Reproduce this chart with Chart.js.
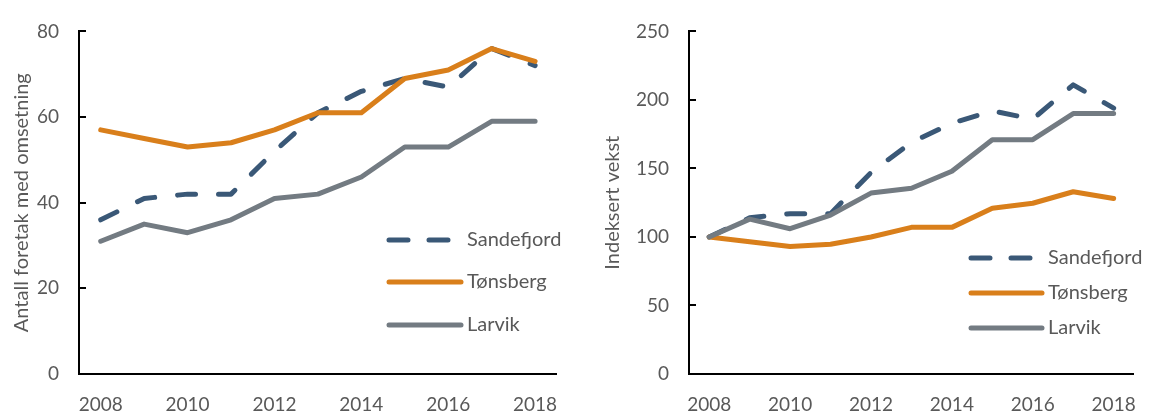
<!DOCTYPE html>
<html><head><meta charset="utf-8">
<script src="https://cdn.jsdelivr.net/npm/chart.js@4.4.0/dist/chart.umd.min.js"></script>
<style>
html,body{margin:0;padding:0;background:#fff;}
#wrap{display:flex;width:1155px;height:414px;}
.c{position:relative;height:414px;}
</style></head><body>
<div id="wrap">
<div class="c" style="width:577px"><canvas id="c1"></canvas></div>
<div class="c" style="width:578px"><canvas id="c2"></canvas></div>
</div>
<script>
const years = ['2008','2009','2010','2011','2012','2013','2014','2015','2016','2017','2018'];
const seriesNames = ['Sandefjord','Tønsberg','Larvik'];
// Left: number of firms with turnover
const sandefjordCount = [36, 41, 42, 42, 52, 61, 66, 69, 67, 76, 72];
const tonsbergCount   = [57, 55, 53, 54, 57, 61, 61, 69, 71, 76, 73];
const larvikCount     = [31, 35, 33, 36, 41, 42, 46, 53, 53, 59, 59];
// Right: indexed growth (2008 = 100)
const sandefjordIndex = [100, 114, 117, 117, 147, 169, 183, 192, 186, 211, 194];
const tonsbergIndex   = [100, 96.5, 93, 94.7, 100, 107, 107, 121, 124.6, 133, 128];
const larvikIndex     = [100, 113, 106, 116, 132, 135.5, 148, 171, 171, 190, 190];
const leftTicks = [0, 20, 40, 60, 80];
const rightTicks = [0, 50, 100, 150, 200, 250];

const FONT = 'Lato, "Open Sans", sans-serif';
const TXT = '#595959';
const COLORS = ['#3A5877', '#D97F1B', '#737B82'];

function datasets(vals){
  return vals.map((v,i)=>({
    label: seriesNames[i], data: v,
    borderColor: COLORS[i], backgroundColor: COLORS[i],
    borderWidth: 5, pointRadius: 0, tension: 0,
    borderCapStyle: 'round', borderJoinStyle: 'round',
    borderDash: i===0 ? [18, 23] : [],
    fill: false
  })).reverse();
}

const insideTicks = {
  id:'insideTicks',
  afterDraw(chart){
    const y = chart.scales.y, a = chart.chartArea, ctx = chart.ctx;
    ctx.save(); ctx.strokeStyle='#000'; ctx.lineWidth=2;
    y.ticks.forEach(t=>{
      const py = Math.round(y.getPixelForValue(t.value));
      ctx.beginPath(); ctx.moveTo(a.left, py); ctx.lineTo(a.left+7, py); ctx.stroke();
    });
    ctx.restore();
  }
};

function legendPlugin(opt){
  return {
    id:'customLegend',
    afterDraw(chart){
      const ctx = chart.ctx;
      ctx.save();
      ctx.font = '20px ' + FONT;
      ctx.textBaseline = 'middle';
      seriesNames.forEach((name,i)=>{
        const ds = chart.data.datasets.find(d=>d.label===name);
        const y = opt.y[i];
        ctx.strokeStyle = ds.borderColor; ctx.lineWidth = 5; ctx.lineCap='round';
        ctx.setLineDash(ds.borderDash && ds.borderDash.length ? [19, 21] : []);
        ctx.beginPath(); ctx.moveTo(opt.x, y); ctx.lineTo(opt.x+opt.len, y); ctx.stroke();
        ctx.setLineDash([]);
        ctx.fillStyle = TXT;
        ctx.fillText(name, opt.x+opt.len+6, y);
      });
      ctx.restore();
    }
  };
}

function makeChart(id, vals, ticksArr, max, step, title, yWidth, pad, titlePad, legend){
  new Chart(document.getElementById(id), {
    type:'line',
    data:{ labels: years, datasets: datasets(vals) },
    options:{
      responsive:true, maintainAspectRatio:false, animation:false,
      layout:{ padding: pad },
      plugins:{ legend:{display:false}, tooltip:{enabled:false} },
      scales:{
        x:{
          offset:true,
          grid:{ display:false, drawTicks:false },
          border:{ color:'#000', width:2 },
          ticks:{ autoSkip:false, maxRotation:0, padding:19, color:TXT,
            font:{family:FONT,size:19},
            callback:(v,i)=> i%2===0 ? years[i] : '' },
          afterFit:(s)=>{ s.height = 40; }
        },
        y:{
          min:0, max:max,
          grid:{ display:false, drawTicks:false },
          border:{ color:'#000', width:2 },
          ticks:{ stepSize:step, padding:20, color:TXT, font:{family:FONT,size:19} },
          afterBuildTicks:(s)=>{ s.ticks = ticksArr.map(v=>({value:v})); },
          title:{ display:true, text:title, color:TXT, font:{family:FONT,size:20}, padding:{top:titlePad,bottom:0} },
          afterFit:(s)=>{ s.width = yWidth; }
        }
      }
    },
    plugins:[insideTicks, legendPlugin(legend)]
  });
}

makeChart('c1', [sandefjordCount, tonsbergCount, larvikCount], leftTicks, 80, 20,
  'Antall foretak med omsetning', 79, {top:30,right:19,left:0,bottom:0}, 10,
  {x:389, len:72, y:[240,282,325]});
makeChart('c2', [sandefjordIndex, tonsbergIndex, larvikIndex], rightTicks, 250, 50,
  'Indeksert vekst', 112, {top:17,right:7,left:0,bottom:0}, 24,
  {x:394, len:71, y:[258,293,328]});
</script>
</body></html>
